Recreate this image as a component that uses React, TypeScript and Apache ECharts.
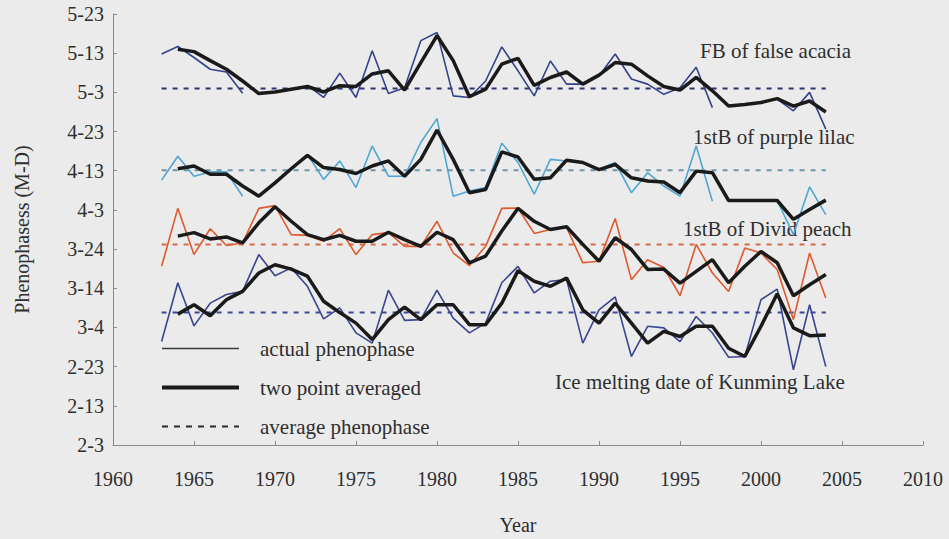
import React, { useEffect, useRef } from "react";
import * as echarts from "echarts";

const actualYears = [1963, 1964, 1965, 1966, 1967, 1968, 1969, 1970, 1971, 1972, 1973, 1974, 1975, 1976, 1977, 1978, 1979, 1980, 1981, 1982, 1983, 1984, 1985, 1986, 1987, 1988, 1989, 1990, 1991, 1992, 1993, 1994, 1995, 1996, 1997, 1998, 1999, 2000, 2001, 2002, 2003, 2004];
const avgYears = actualYears.slice(1);

// values: days after Feb 3 (tick every 10 days)
const yTickLabels = ["2-3", "2-13", "2-23", "3-4", "3-14", "3-24", "4-3", "4-13", "4-23", "5-3", "5-13", "5-23"];

const acaciaActual = [99.8, 101.7, 98.9, 95.9, 95.2, 89.8, null, null, null, 91.8, 88.7, 94.9, 88.7, 100.6, 89.7, 91.2, 103.2, 105.3, 89.1, 88.7, 92.9, 101.6, 95.5, 89.1, 98.0, 92.1, 92.1, 94.2, 99.8, 93.4, 92.1, 89.5, 91.2, 96.4, 86.1, null, null, null, 88.3, 85.3, 90.0, 80.6];
const acaciaAvg = [101.0, 100.4, 98.1, 95.9, 92.9, 89.7, 90.1, 90.8, 91.5, 90.1, 91.7, 91.5, 94.7, 95.5, 90.6, 97.6, 104.5, 98.1, 88.9, 90.8, 97.2, 98.7, 91.8, 93.8, 95.2, 92.1, 94.4, 97.6, 97.2, 94.2, 91.5, 90.6, 93.8, 90.4, 86.5, 86.9, 87.4, 88.4, 86.5, 87.8, 85.0];
const acaciaMean = 91.0;

const lilacActual = [67.6, 73.7, 68.6, 69.7, 69.7, 63.5, null, null, null, 74.2, 67.8, 72.5, 65.7, 76.3, 68.6, 68.6, 77.2, 83.3, 63.5, 64.8, 65.7, 77.0, 72.1, 64.0, 72.9, 72.5, 72.1, 70.3, 72.1, 64.4, 69.5, 66.1, 63.5, 76.3, 62.2, null, null, null, 62.4, 53.7, 65.9, 58.8];
const lilacAvg = [70.5, 71.2, 69.1, 69.1, 66.1, 63.5, 66.9, 70.5, 73.9, 70.8, 70.3, 69.3, 71.2, 72.5, 68.6, 72.9, 80.4, 72.9, 64.4, 65.2, 74.8, 73.5, 67.8, 68.2, 72.7, 72.1, 70.3, 71.6, 68.2, 67.4, 67.1, 64.4, 69.9, 69.5, 62.4, 62.4, 62.4, 62.4, 57.6, 60.1, 62.5];
const lilacMean = 70.1;

const peachActual = [45.6, 60.4, 48.6, 55.2, 50.9, 51.6, 60.4, 61.1, 53.7, 53.5, 52.0, 55.2, 48.6, 53.7, 54.2, 50.7, 50.7, 57.1, 49.0, 45.8, 50.7, 60.4, 60.5, 54.0, 55.0, 55.5, 46.5, 46.9, 57.8, 42.2, 47.3, 45.3, 38.1, 51.2, 43.9, 39.2, 50.3, 49.0, 44.8, 32.0, 49.0, 37.5];
const peachAvg = [53.3, 54.2, 52.6, 53.1, 51.6, 56.7, 60.8, 57.1, 53.7, 52.4, 53.5, 52.0, 52.0, 54.3, 52.4, 50.7, 54.3, 52.4, 46.5, 48.2, 54.6, 60.4, 57.1, 55.0, 55.7, 51.2, 46.9, 52.9, 49.9, 44.8, 44.9, 41.3, 44.3, 47.3, 41.4, 45.6, 49.4, 46.5, 38.1, 40.9, 43.5];
const peachMean = 51.2;

const iceActual = [26.4, 41.4, 30.4, 36.2, 38.4, 39.2, 48.6, 43.2, 45.2, 40.5, 32.2, 35.0, 28.6, 26.0, 39.5, 31.8, 32.0, 39.5, 32.4, 28.6, 31.1, 41.4, 45.6, 38.8, 41.8, 42.2, 26.0, 34.5, 37.8, 22.6, 30.3, 29.9, 26.4, 32.8, 28.6, 22.4, 22.6, 37.1, 39.8, 19.2, 35.8, 20.0];
const iceAvg = [33.4, 35.8, 33.0, 37.1, 39.2, 43.9, 46.0, 44.9, 43.1, 36.7, 33.8, 31.1, 26.9, 32.0, 35.2, 32.0, 35.8, 35.8, 30.7, 30.7, 36.2, 44.5, 41.8, 40.5, 42.6, 34.5, 31.1, 36.2, 31.1, 26.0, 29.0, 27.7, 30.3, 30.3, 24.7, 22.6, 30.3, 38.6, 29.9, 27.9, 28.1];
const iceMean = 33.8;

const groups = [
  { name: "FB of false acacia", actual: acaciaActual, avg: acaciaAvg, mean: acaciaMean, color: "#34428a", dash: "#2c3570" },
  { name: "1stB of purple lilac", actual: lilacActual, avg: lilacAvg, mean: lilacMean, color: "#4ea6d4", dash: "#6f93a8" },
  { name: "1stB of Divid peach", actual: peachActual, avg: peachAvg, mean: peachMean, color: "#de5a2c", dash: "#d46a45" },
  { name: "Ice melting date of Kunming Lake", actual: iceActual, avg: iceAvg, mean: iceMean, color: "#3a4590", dash: "#3c4a96" },
];

const legendNames = ["actual phenophase", "two point averaged", "average phenophase"];

const FONT = "'Liberation Serif', 'DejaVu Serif', serif";
const TXT = "#2e2e2e";

export default function App() {
  const ref = useRef<HTMLDivElement>(null);
  useEffect(() => {
    document.body.style.margin = "0";
    document.body.style.background = "#ebebeb";
    const chart = echarts.init(ref.current as HTMLDivElement, null, { renderer: "svg" });
    const series: any[] = [];
    groups.forEach((g) => {
      series.push({
        type: "line",
        name: g.name + " actual",
        data: actualYears.map((y, i) => [y, g.actual[i]]),
        symbol: "none",
        connectNulls: false,
        lineStyle: { color: g.color, width: 1.6 },
        z: 2,
      });
    });
    groups.forEach((g) => {
      series.push({
        type: "line",
        name: g.name + " mean",
        data: [[actualYears[0], g.mean], [actualYears[actualYears.length - 1], g.mean]],
        symbol: "none",
        lineStyle: { color: g.dash, width: 2, type: [5, 6] },
        z: 1,
      });
    });
    groups.forEach((g) => {
      series.push({
        type: "line",
        name: g.name + " averaged",
        data: avgYears.map((y, i) => [y, g.avg[i]]),
        symbol: "none",
        lineStyle: { color: "#1a1a1a", width: 3.5 },
        z: 3,
      });
    });
    // legend-only series
    series.push(
      { type: "line", name: legendNames[0], data: [], symbol: "none", lineStyle: { color: "#3a3a3a", width: 1.6 }, itemStyle: { color: "#3a3a3a" } },
      { type: "line", name: legendNames[1], data: [], symbol: "none", lineStyle: { color: "#1a1a1a", width: 4 }, itemStyle: { color: "#1a1a1a" } },
      { type: "line", name: legendNames[2], data: [], symbol: "none", lineStyle: { color: "#2a2a2a", width: 2, type: [6, 6] }, itemStyle: { color: "#2a2a2a" } }
    );

    const labelPos = [
      { x: 700, y: 52 },
      { x: 693, y: 138 },
      { x: 683, y: 230 },
      { x: 555, y: 383 },
    ];

    chart.setOption({
      animation: false,
      backgroundColor: "#ebebeb",
      grid: { left: 113, right: 26, top: 14, bottom: 94, outerBoundsMode: "none", containLabel: false },
      xAxis: {
        type: "value",
        min: 1960,
        max: 2010,
        interval: 5,
        name: "Year",
        nameLocation: "middle",
        nameGap: 70,
        nameTextStyle: { fontFamily: FONT, fontSize: 20, color: TXT },
        axisLine: { lineStyle: { color: "#8a8a8a", width: 1 } },
        axisTick: { inside: true, length: 4, lineStyle: { color: "#8a8a8a" } },
        axisLabel: { fontFamily: FONT, fontSize: 20, color: TXT, margin: 24, formatter: (v: number) => String(v) },
        splitLine: { show: false },
      },
      yAxis: {
        type: "value",
        min: 0,
        max: 110,
        interval: 10,
        name: "Phenophasess (M-D)",
        nameLocation: "middle",
        nameGap: 81,
        nameTextStyle: { fontFamily: FONT, fontSize: 20, color: TXT },
        axisLine: { show: true, lineStyle: { color: "#8a8a8a", width: 1 } },
        axisTick: { show: true, inside: true, length: 4, lineStyle: { color: "#8a8a8a" } },
        axisLabel: {
          fontFamily: FONT,
          fontSize: 20,
          color: TXT,
          margin: 9,
          formatter: (v: number) => yTickLabels[Math.round(v / 10)] ?? "",
        },
        splitLine: { show: false },
      },
      legend: {
        data: [
          { name: legendNames[0], lineStyle: { width: 1.6, color: "#3a3a3a" } },
          { name: legendNames[1], lineStyle: { width: 4, color: "#1a1a1a" } },
          { name: legendNames[2], lineStyle: { width: 2, color: "#2a2a2a", type: [6, 6] } },
        ],
        orient: "vertical",
        left: 155,
        top: 333,
        itemWidth: 77,
        itemHeight: 14,
        itemGap: 18,
        itemStyle: { opacity: 0 },
        textStyle: { fontFamily: FONT, fontSize: 21, color: TXT, padding: [0, 0, 0, 16] },
        selectedMode: false,
      },
      graphic: groups.map((g, i) => ({
        type: "text",
        left: labelPos[i].x,
        top: labelPos[i].y - 12,
        style: { text: g.name, fontFamily: FONT, fontSize: 21, fill: TXT },
      })),
      series,
    });
    return () => chart.dispose();
  }, []);
  return <div ref={ref} style={{ width: 949, height: 539 }} />;
}
